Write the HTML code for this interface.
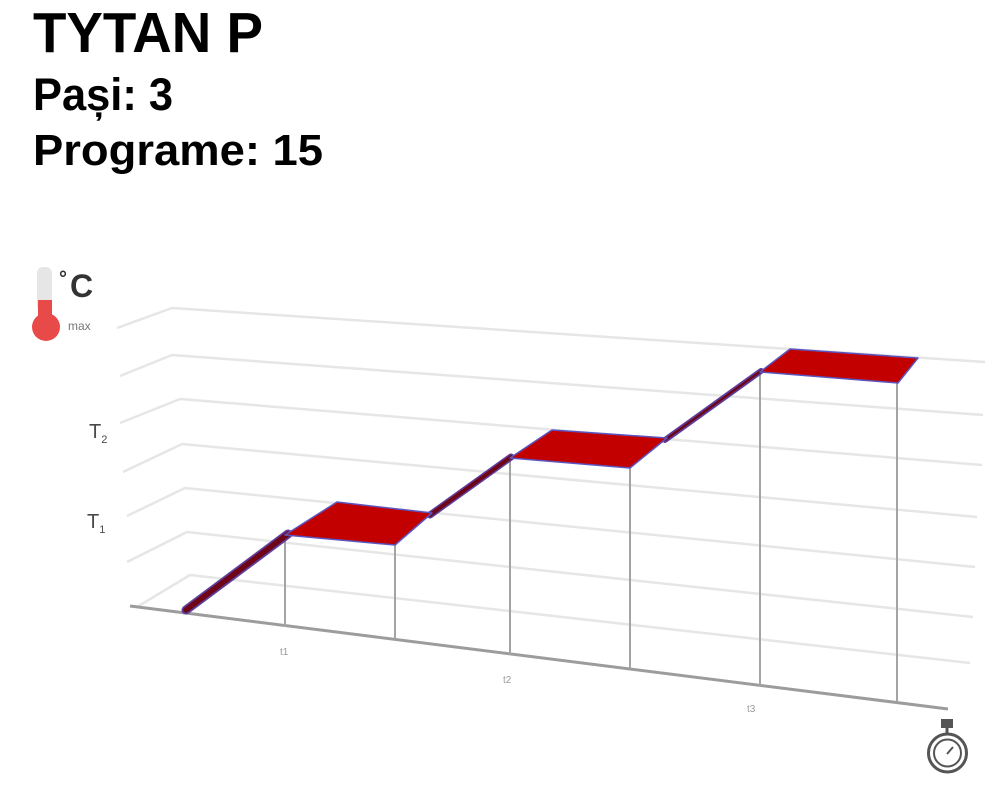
<!DOCTYPE html>
<html><head><meta charset="utf-8"><style>
html,body{margin:0;padding:0;background:#fff;}
svg{display:block;}
</style></head><body>
<svg width="1000" height="800" viewBox="0 0 1000 800" xmlns="http://www.w3.org/2000/svg">
<rect width="1000" height="800" fill="#fff"/>
<!-- Title -->
<g font-family="Liberation Sans, Arial, sans-serif" font-weight="bold" fill="#000">
<text x="33" y="52" font-size="57" textLength="230" lengthAdjust="spacingAndGlyphs">TYTAN P</text>
<text x="33" y="110" font-size="45" textLength="140" lengthAdjust="spacingAndGlyphs">Pași: 3</text>
<text x="33" y="165" font-size="44" textLength="290" lengthAdjust="spacingAndGlyphs">Programe: 15</text>
</g>
<!-- gridlines -->
<g fill="none" stroke="#e6e6e6" stroke-width="2.5" stroke-linejoin="round">
<polyline points="117,328 172,308 985,362"/>
<polyline points="120,376 172,355 983,415"/>
<polyline points="120,423 180,399 982,465"/>
<polyline points="123,472 182,444 977,517"/>
<polyline points="127,516 185,488 975,567"/>
<polyline points="127,562 187,532 973,617"/>
<polyline points="137,607 190,575 970,663"/>
</g>
<!-- floor axis -->
<line x1="130" y1="606" x2="948" y2="709" stroke="#9c9c9c" stroke-width="3"/>
<!-- vertical lines -->
<g stroke="#a4a4a4" stroke-width="2">
<line x1="285" y1="535" x2="285" y2="627"/>
<line x1="395" y1="545" x2="395" y2="639"/>
<line x1="510" y1="458" x2="510" y2="655"/>
<line x1="630" y1="468" x2="630" y2="668"/>
<line x1="760" y1="372" x2="760" y2="686"/>
<line x1="897" y1="383" x2="897" y2="702"/>
</g>
<!-- ramps -->
<g stroke-linecap="round">
<line x1="186" y1="610" x2="288" y2="534" stroke="#5e3f9e" stroke-width="9"/>
<line x1="186" y1="610" x2="288" y2="534" stroke="#6e0618" stroke-width="5.5"/>
<line x1="430" y1="515" x2="511" y2="457" stroke="#5e3f9e" stroke-width="7"/>
<line x1="430" y1="515" x2="511" y2="457" stroke="#6e0618" stroke-width="4"/>
<line x1="665" y1="440" x2="761" y2="371" stroke="#5e3f9e" stroke-width="6"/>
<line x1="665" y1="440" x2="761" y2="371" stroke="#6e0618" stroke-width="2.5"/>
</g>
<!-- plateaus -->
<g fill="#c20000" stroke="#5a55c0" stroke-width="1.5" stroke-linejoin="round">
<polygon points="285,535 337,502 432,513 395,545"/>
<polygon points="510,458 552,430 667,438 630,468"/>
<polygon points="760,372 790,349 918,358 898,383"/>
</g>
<!-- tick labels -->
<g font-family="Liberation Sans, Arial, sans-serif" font-size="10" fill="#9a9a9a">
<text x="280" y="655">t1</text>
<text x="503" y="683">t2</text>
<text x="747" y="712">t3</text>
</g>
<!-- T labels -->
<g font-family="Liberation Sans, Arial, sans-serif" fill="#4a4a4a">
<text x="89" y="438" font-size="20">T<tspan font-size="11" dy="5">2</tspan></text>
<text x="87" y="528" font-size="20">T<tspan font-size="11" dy="5">1</tspan></text>
</g>
<!-- thermometer -->
<rect x="37" y="267" width="15" height="45" rx="6" fill="#e6e6e6"/>
<rect x="38" y="300" width="14" height="20" fill="#e84a4a"/>
<circle cx="46" cy="327" r="14" fill="#e84a4a"/>
<text x="59" y="285" font-family="Liberation Sans, Arial, sans-serif" font-size="20" font-weight="bold" fill="#333">°</text>
<text x="70" y="297" font-family="Liberation Sans, Arial, sans-serif" font-size="32" font-weight="bold" fill="#333">C</text>
<text x="68" y="330" font-family="Liberation Sans, Arial, sans-serif" font-size="12" fill="#777">max</text>
<!-- stopwatch -->
<g fill="none" stroke="#555" stroke-width="3">
<rect x="941" y="719" width="12" height="9" fill="#555" stroke="none"/>
<line x1="947" y1="727" x2="947" y2="734"/>
<circle cx="947.5" cy="753" r="19"/>
<circle cx="947.5" cy="753" r="13.5" stroke-width="2"/>
<line x1="947" y1="754" x2="953" y2="747" stroke-width="2"/>
</g>
</svg>
</body></html>
